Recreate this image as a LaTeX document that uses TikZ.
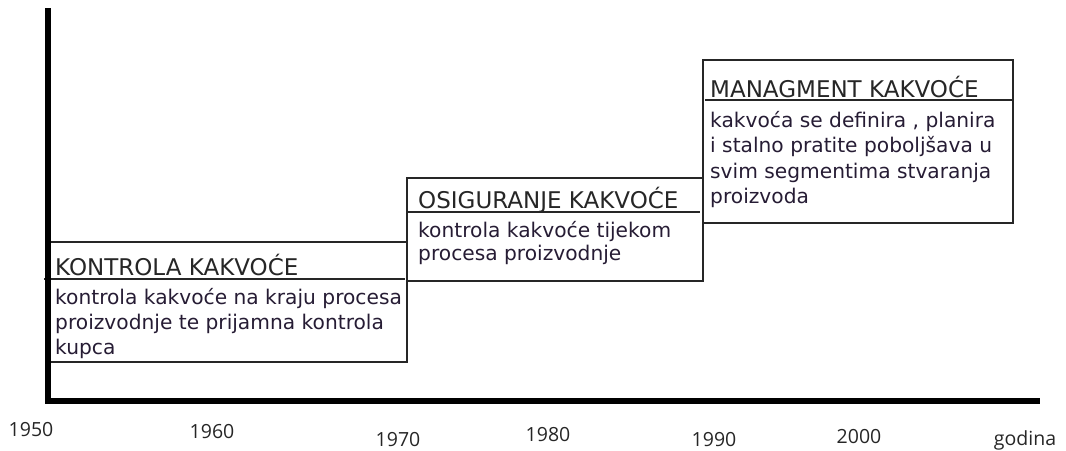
\documentclass[tikz,border=0pt]{standalone}
\usepackage{fontspec}
\setmainfont{Open Sans}
\newfontfamily\boxfont{DejaVu Sans}
\definecolor{txt}{HTML}{261C34}
\tikzset{
  boxline/.style={draw=black!85, line width=1.3pt},
  axisline/.style={draw=black, line width=5.5pt},
  body/.style={anchor=base west, inner sep=0pt, font=\boxfont\fontsize{20.2}{23}\selectfont, text=txt},
  head/.style={anchor=base west, inner sep=0pt, font=\boxfont\fontsize{23}{25}\selectfont, text=black!85},
  yearlbl/.style={anchor=base, inner sep=0pt, font=\fontsize{19.5}{23}\selectfont, text=black!85}
}
\begin{document}
\begin{tikzpicture}[x=1pt,y=-1pt]
\useasboundingbox (0,0) rectangle (1066,450);
% box corners
\coordinate (b1tl) at (49,242); \coordinate (b1br) at (407,362);
\coordinate (b2tl) at (407,178); \coordinate (b2br) at (703,281);
\coordinate (b3tl) at (703,60);  \coordinate (b3br) at (1013,223);
% boxes
\draw[boxline] (b1tl) rectangle (b1br);
\draw[boxline] (b2tl) rectangle (b2br);
\draw[boxline] (b3tl) rectangle (b3br);
% header underlines
\coordinate (h1a) at (44,279); \coordinate (h1b) at (405,279);
\coordinate (h2a) at (407,212); \coordinate (h2b) at (700,212);
\coordinate (h3a) at (705,100); \coordinate (h3b) at (1013,100);
\draw[boxline] (h1a) -- (h1b);
\draw[boxline] (h2a) -- (h2b);
\draw[boxline] (h3a) -- (h3b);
% axes
\coordinate (top) at (48,8);
\coordinate (origin) at (48,403.75);
\coordinate (origin2) at (45.25,401);
\coordinate (right) at (1040,401);
\draw[axisline] (top) -- (origin);
\draw[axisline] (origin2) -- (right);
% box 1 texts
\node[head] (t1) at (55,275) {KONTROLA KAKVOĆE};
\node[body] (t1a) at (55,304) {kontrola kakvoće na kraju procesa};
\node[body] (t1b) at (55,329) {proizvodnje te prijamna kontrola};
\node[body] (t1c) at (55,354) {kupca};
% box 2 texts
\node[head] (t2) at (418,208) {OSIGURANJE KAKVOĆE};
\node[body] (t2a) at (418,237) {kontrola kakvoće tijekom};
\node[body] (t2b) at (418,260) {procesa proizvodnje};
% box 3 texts
\node[head] (t3) at (710,97) {MANAGMENT KAKVOĆE};
\node[body] (t3a) at (710,127) {kakvoća se definira , planira};
\node[body] (t3b) at (710,152) {i stalno pratite poboljšava u};
\node[body] (t3c) at (710,178) {svim segmentima stvaranja};
\node[body] (t3d) at (710,203) {proizvoda};
% year labels
\node[yearlbl] (y1950) at (31,436) {1950};
\node[yearlbl] (y1960) at (212,438) {1960};
\node[yearlbl] (y1970) at (398,446) {1970};
\node[yearlbl] (y1980) at (548,441) {1980};
\node[yearlbl] (y1990) at (714,446) {1990};
\node[yearlbl] (y2000) at (859,443) {2000};
\node[yearlbl] (ygod) at (1025,445) {godina};
\end{tikzpicture}
\end{document}
